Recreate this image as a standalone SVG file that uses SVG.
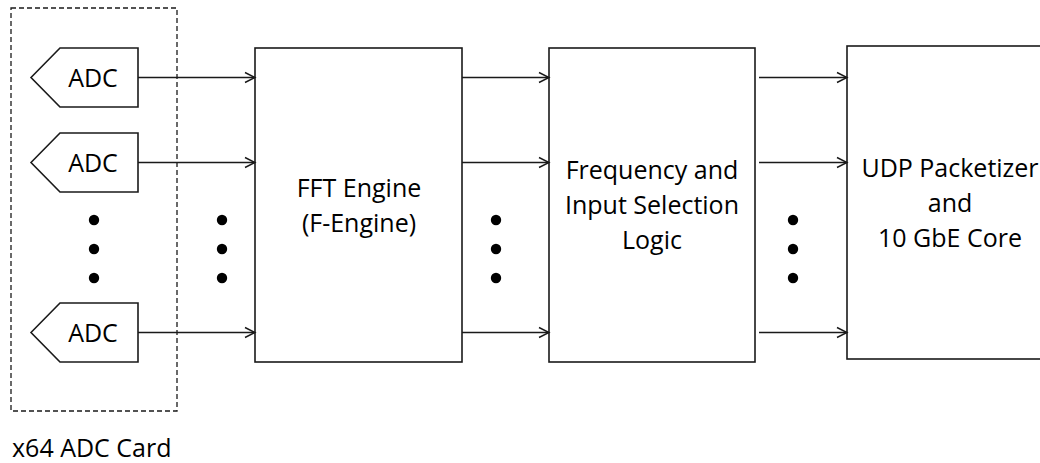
<svg xmlns="http://www.w3.org/2000/svg" width="1040" height="463" viewBox="0 0 1040 463">
<defs>
<marker id="arr" markerUnits="userSpaceOnUse" markerWidth="12" markerHeight="12" refX="10" refY="5" orient="auto" overflow="visible">
<path d="M0,0 L10,5 L0,10" fill="none" stroke="#1a1a1a" stroke-width="1.4"/>
</marker>
<style>
.box{fill:#fff;stroke:#1a1a1a;stroke-width:1.6}
.adc{fill:#fff;stroke:#1a1a1a;stroke-width:1.6}
.t{font-family:"Open Sans","Liberation Sans",sans-serif;font-size:25px;fill:#000;text-anchor:middle}
.conn line{stroke:#1a1a1a;stroke-width:1.4;marker-end:url(#arr)}
.dot{fill:#000}
</style>
</defs>
<rect width="1040" height="463" fill="#fff"/>
<g id="adc-card">
<rect x="11" y="8" width="166" height="403" fill="none" stroke="#1a1a1a" stroke-width="1.3" stroke-dasharray="5,3"/>
<text x="12" y="457" style="font-family:'Open Sans','Liberation Sans',sans-serif;font-size:25px;fill:#000">x64 ADC Card</text>
</g>
<g id="adc1">
<polygon class="adc" points="31,77.5 60,48 138,48 138,107 60,107"/>
<text class="t" x="93" y="87">ADC</text>
</g>
<g id="adc2">
<polygon class="adc" points="31,162.5 60,133 138,133 138,192 60,192"/>
<text class="t" x="93" y="172">ADC</text>
</g>
<g id="adc3">
<polygon class="adc" points="31,332.5 60,303 138,303 138,362 60,362"/>
<text class="t" x="93" y="342">ADC</text>
</g>
<g id="fft">
<rect class="box" x="255" y="48" width="207" height="314"/>
<text class="t" x="359" y="197">FFT Engine</text>
<text class="t" x="359" y="232">(F-Engine)</text>
</g>
<g id="freq">
<rect class="box" x="549" y="48" width="206" height="314"/>
<text class="t" x="652" y="179">Frequency and</text>
<text class="t" x="652" y="214">Input Selection</text>
<text class="t" x="652" y="249">Logic</text>
</g>
<g id="udp">
<rect class="box" x="847" y="46" width="210" height="313"/>
<text class="t" x="950" y="177">UDP Packetizer</text>
<text class="t" x="950" y="212">and</text>
<text class="t" x="950" y="247">10 GbE Core</text>
</g>
<g id="ellipses">
<circle class="dot" cx="94" cy="220" r="5.2"/>
<circle class="dot" cx="94" cy="249" r="5.2"/>
<circle class="dot" cx="94" cy="278" r="5.2"/>
<circle class="dot" cx="222" cy="220" r="5.2"/>
<circle class="dot" cx="222" cy="249" r="5.2"/>
<circle class="dot" cx="222" cy="278" r="5.2"/>
<circle class="dot" cx="496" cy="220" r="5.2"/>
<circle class="dot" cx="496" cy="249" r="5.2"/>
<circle class="dot" cx="496" cy="278" r="5.2"/>
<circle class="dot" cx="793" cy="220" r="5.2"/>
<circle class="dot" cx="793" cy="249" r="5.2"/>
<circle class="dot" cx="793" cy="278" r="5.2"/>
</g>
<g id="connectors" class="conn">
<line x1="138" y1="77.5" x2="255" y2="77.5"/>
<line x1="138" y1="162.5" x2="255" y2="162.5"/>
<line x1="138" y1="332.5" x2="255" y2="332.5"/>
<line x1="462" y1="77.5" x2="549" y2="77.5"/>
<line x1="462" y1="162.5" x2="549" y2="162.5"/>
<line x1="462" y1="332.5" x2="549" y2="332.5"/>
<line x1="759" y1="77.5" x2="847" y2="77.5"/>
<line x1="759" y1="162.5" x2="847" y2="162.5"/>
<line x1="759" y1="332.5" x2="847" y2="332.5"/>
</g>
</svg>
